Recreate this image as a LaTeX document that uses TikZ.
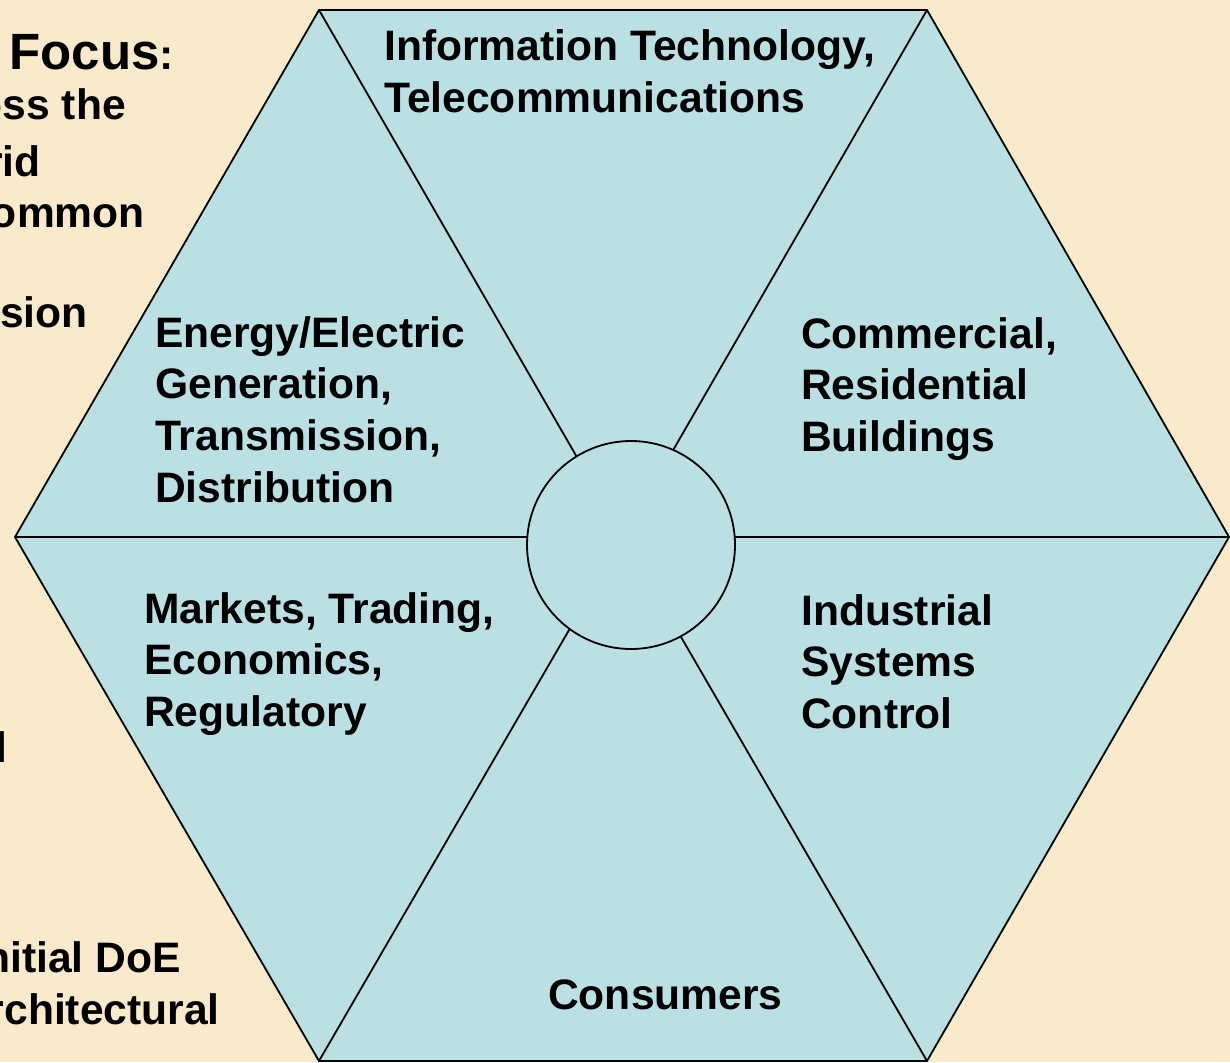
\documentclass[tikz,border=0pt]{standalone}
\usepackage{fontspec}
\setmainfont{Liberation Sans}
\definecolor{parch}{RGB}{248,234,203}
\definecolor{hexfill}{RGB}{186,224,227}
\begin{document}
\begin{tikzpicture}[x=1pt,y=-1pt,
  lbl/.style={anchor=base west,inner sep=0pt,font=\bfseries\fontsize{42.6}{51.7}\selectfont},
  bg/.style={anchor=base east,inner sep=0pt,font=\bfseries\fontsize{42.6}{51.7}\selectfont},
  edge/.style={line width=1.8pt,line join=miter}]
\fill[parch] (0,0) rectangle (1230,1062);
\useasboundingbox (0,0) rectangle (1230,1062);
% background text partly outside the picture
\node[bg] (t0) at (174,70) {\fontsize{51}{60}\selectfont Focus\fontsize{42.6}{50}\selectfont:};
\node[bg] (t1) at (126,120) {oss the};
\node[bg] (t2) at (41,176) {rid};
\node[bg] (t3) at (145,227) {ommon};
\node[bg] (t4) at (88,327) {sion};
\node[bg] (t5) at (8,762) {l};
\node[bg] (t6) at (181,972) {nitial DoE};
\node[bg] (t7) at (220,1024) {rchitectural};
% hexagon
\coordinate (A) at (319,10);
\coordinate (B) at (927,10);
\coordinate (C) at (1229,537);
\coordinate (D) at (927,1061);
\coordinate (E) at (319,1061);
\coordinate (F) at (15,537);
\coordinate (O) at (623,537);
\filldraw[edge,fill=hexfill] (A) -- (B) -- (C) -- (D) -- (E) -- (F) -- cycle;
\draw[edge] (O) -- (A) (O) -- (B) (O) -- (C) (O) -- (D) (O) -- (E) (O) -- (F);
\node[circle,draw,line width=1.8pt,fill=hexfill,minimum size=208pt,inner sep=0pt] (hub) at (631,545) {};
% labels
\node[lbl] (it) at (384,61) {\begin{tabular}[t]{@{}l@{}}Information Technology,\\Telecommunications\end{tabular}};
\node[lbl] (en) at (155,347) {\begin{tabular}[t]{@{}l@{}}Energy/Electric\\Generation,\\Transmission,\\Distribution\end{tabular}};
\node[lbl] (co) at (801,348) {\begin{tabular}[t]{@{}l@{}}Commercial,\\Residential\\Buildings\end{tabular}};
\node[lbl] (ma) at (144,623) {\begin{tabular}[t]{@{}l@{}}Markets, Trading,\\Economics,\\Regulatory\end{tabular}};
\node[lbl] (in) at (801,625) {\begin{tabular}[t]{@{}l@{}}Industrial\\Systems\\Control\end{tabular}};
\node[lbl] (cs) at (548,1009) {Consumers};
\end{tikzpicture}
\end{document}
